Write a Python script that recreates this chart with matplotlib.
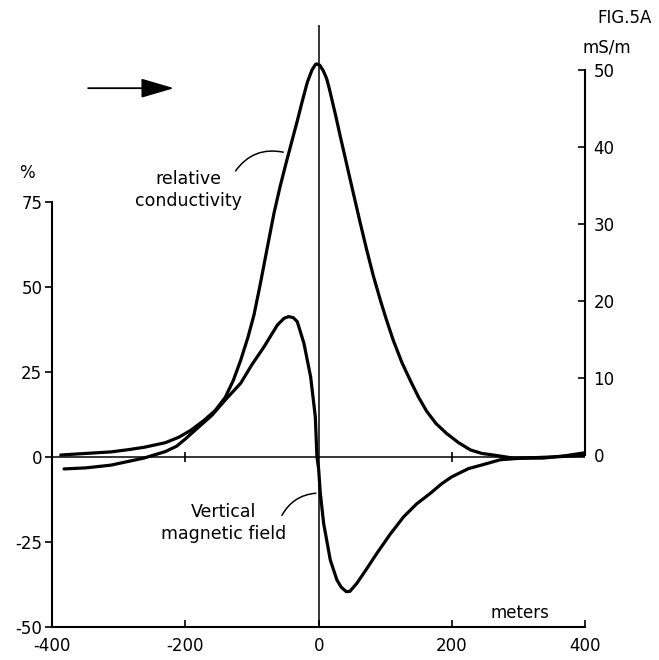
import matplotlib
matplotlib.use("Agg")
import matplotlib.pyplot as plt

plt.rcParams['font.family'] = ['DejaVu Sans']
plt.rcParams['axes.unicode_minus'] = False

# relative conductivity, mS/m (right axis)
dist_cond = [-387, -350, -312, -285, -262, -230, -210, -192, -172, -155, -140, -128,
             -117, -106, -97, -88, -78, -67, -58, -48, -40, -32, -25, -17, -10, -5,
             -3, 2, 7, 12, 16, 25, 33, 42, 51, 62, 72, 82, 93, 102, 112, 125, 138,
             150, 162, 176, 192, 210, 228, 245, 262, 292, 337, 370, 400]
cond = [0.0, 0.2, 0.4, 0.7, 1.0, 1.6, 2.3, 3.2, 4.5, 5.8, 7.5, 9.7,
        12.3, 15.3, 18.2, 22.0, 26.5, 31.4, 34.8, 38.2, 40.8, 43.4, 45.8, 48.4, 50.0, 50.7,
        50.8, 50.6, 49.9, 48.9, 47.6, 44.3, 41.2, 37.8, 34.4, 30.3, 26.7, 23.3, 20.0, 17.5, 14.9, 12.0, 9.6,
        7.5, 5.7, 4.1, 2.8, 1.6, 0.65, 0.2, 0.0, -0.4, -0.4, -0.1, 0.3]

# vertical magnetic field, % (left axis)
dist_mag = [-382, -350, -312, -262, -230, -213, -200, -187, -160, -140, -117, -100, -82, -62,
            -52, -45, -38, -32, -22, -12, -5, -2.5, 0, 2.5, 7.5, 17.5, 27.5, 34,
            41.5, 47, 57.5, 70, 87.5, 107, 127.5, 147, 167.5, 185, 200, 225, 247.5,
            272.5, 300, 322, 360, 400]
mag = [-3.5, -3.2, -2.4, -0.3, 1.6, 3.2, 5.3, 7.6, 12.3, 16.8, 21.7, 27.2, 32.4, 38.8,
       40.8, 41.3, 41.0, 39.8, 33.4, 23.6, 11.9, 0.0, -3.5, -10.6, -19.5, -30.3, -36.2, -38.3,
       -39.6, -39.5, -37.1, -33.5, -28.3, -22.8, -17.6, -13.8, -10.7, -7.8, -5.8, -3.4, -2.2,
       -0.8, -0.4, -0.2, 0.1, 0.5]

x_ticks = [-400, -200, 0, 200, 400]
pct_ticks = [-50, -25, 0, 25, 50, 75]
ms_ticks = [0, 10, 20, 30, 40, 50]

fig = plt.figure(figsize=(6.59, 6.60), dpi=100)
ax = fig.add_axes([0.079, 0.05, 0.809, 0.912])
ax2 = ax.twinx()

ax.set_xlim(-400, 400)
ax.set_ylim(-50, 127.06)
ax2.set_ylim(-22.34, 55.84)

# curves
ax.plot(dist_mag, mag, color='black', lw=2.3, solid_joinstyle='round', solid_capstyle='round')
ax2.plot(dist_cond, cond, color='black', lw=2.3, solid_joinstyle='round', solid_capstyle='round')

# zero line and centre line
ax.hlines(0, -400, 400, color='black', lw=1.1)
ax.plot([-200, 200], [0, 0], ls='none', marker='|', ms=7, mew=1.2, color='black')
ax.axvline(0, color='black', lw=1.1)

# spines
for s in ['top', 'right']:
    ax.spines[s].set_visible(False)
for s in ['top', 'left', 'bottom']:
    ax2.spines[s].set_visible(False)
ax.spines['left'].set_bounds(-50, 75)
ax.spines['bottom'].set_bounds(-400, 400)
ax2.spines['right'].set_bounds(0, 50)
for sp in [ax.spines['left'], ax.spines['bottom'], ax2.spines['right']]:
    sp.set_linewidth(1.5)

ax.set_xticks(x_ticks)
ax.set_xticklabels([str(v) for v in x_ticks])
ax.set_yticks(pct_ticks)
ax.set_yticklabels([str(v) for v in pct_ticks])
ax2.set_yticks(ms_ticks)
ax2.set_yticklabels([str(v) for v in ms_ticks])
ax.tick_params(axis='x', direction='in', length=5, width=1.2, pad=7, labelsize=12)
ax.tick_params(axis='y', direction='out', length=5, width=1.2, pad=2, labelsize=12)
ax2.tick_params(axis='y', direction='in', length=5, width=1.2, pad=6, labelsize=12)

# labels
ax.text(-195, 78.5, 'relative\nconductivity', ha='center', va='center',
        fontsize=12.5, linespacing=1.25)
ax.annotate('', xy=(-49, 89.5), xytext=(-127, 83.5),
            arrowprops=dict(arrowstyle='-', lw=1.1, connectionstyle='arc3,rad=-0.35'))
ax.text(-143, -19.5, 'Vertical\nmagnetic field', ha='center', va='center',
        fontsize=12.5, linespacing=1.3)
ax.annotate('', xy=(0, -10.6), xytext=(-57, -17.9),
            arrowprops=dict(arrowstyle='-', lw=1.1, connectionstyle='arc3,rad=-0.3'))

# direction arrow
ax.annotate('', xy=(-213, 108.5), xytext=(-350, 108.5),
            arrowprops=dict(arrowstyle='-|>,head_length=1.7,head_width=0.5',
                            lw=1.3, color='black', mutation_scale=12))

fig.text(27 / 659, 1 - 173 / 660, '%', ha='center', va='center', fontsize=12)
fig.text(625 / 659, 1 - 18 / 660, 'FIG.5A', ha='center', va='center', fontsize=12)
fig.text(607 / 659, 1 - 48 / 660, 'mS/m', ha='center', va='center', fontsize=12)
fig.text(520 / 659, 1 - 613 / 660, 'meters', ha='center', va='center', fontsize=12)

fig.savefig('out.png', dpi=100, facecolor='white')
